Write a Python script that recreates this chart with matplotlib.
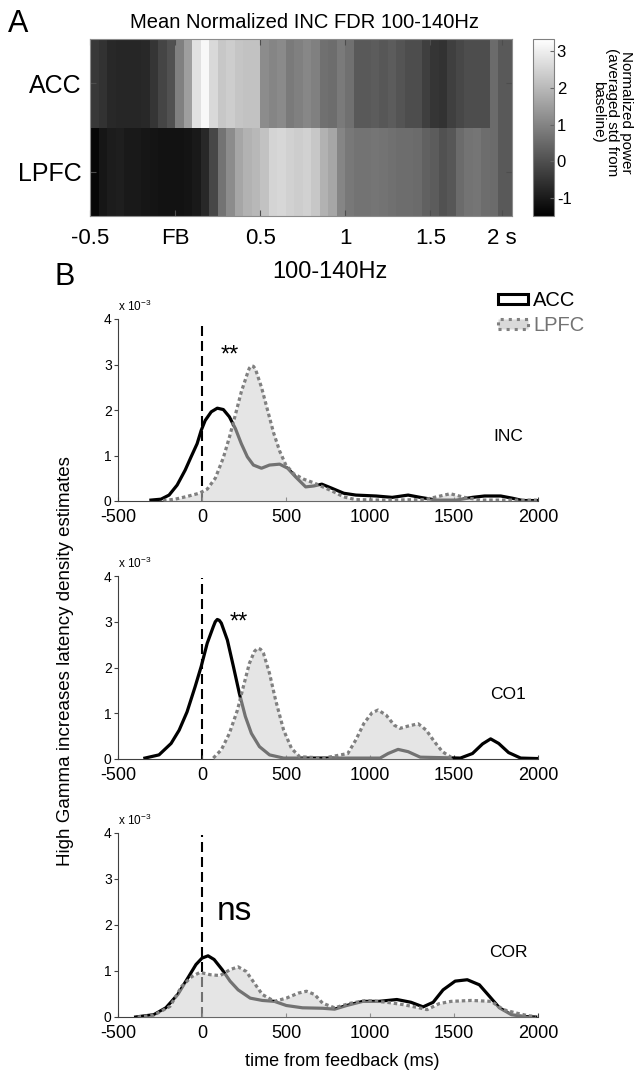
import numpy as np
import matplotlib
matplotlib.use('Agg')
import matplotlib.pyplot as plt
from matplotlib.patches import Patch

plt.rcParams['font.family'] = ['Liberation Sans', 'DejaVu Sans']
plt.rcParams['mathtext.default'] = 'regular'
plt.rcParams['axes.unicode_minus'] = False

# ---- panel A : mean normalized power, 50 ms bins from -0.5 s
t_edges = np.linspace(-0.5, 2.0, 51)
acc_power = [-0.43, -0.53, -0.72, -0.77, -0.77, -0.77, -0.72, -0.48, -0.19, 0.05,
             0.92, 1.5, 2.75, 3.19, 2.61, 2.27, 2.37, 2.22, 2.17, 2.17,
             1.16, 1.02, 1.11, 0.82, 0.92, 1.06, 0.92, 0.63, 0.58, 0.82,
             0.63, 0.2, 0.2, 0.25, 0.15, 0.25, 0.10, -0.04, -0.04, -0.29,
             -0.48, -0.53, -0.29, -0.14, -0.04, -0.04, -0.04, 0.53, 0.2, 0.2]
lpfc_power = [-1.35, -1.06, -0.96, -0.91, -1.01, -1.01, -1.06, -1.10, -1.15, -1.15,
              -1.15, -1.10, -1.01, -0.72, -0.14, 0.68, 1.16, 1.64, 1.88, 1.98,
              2.17, 2.51, 2.56, 2.46, 2.37, 2.46, 2.27, 1.88, 1.64, 1.02,
              0.78, 0.68, 0.68, 0.73, 0.68, 0.63, 0.58, 0.58, 0.53, 0.34,
              0.25, 0.05, 0.15, 0.53, 0.68, 0.73, 0.58, 0.53, 0.2, 0.2]
rows = ['ACC', 'LPFC']
a_ticks = [-0.5, 0, 0.5, 1, 1.5, 1.92]
a_ticklabels = ['-0.5', 'FB', '0.5', '1', '1.5', '2 s']

# ---- panel B : latency density estimates (x 1e-3), time in ms
inc_acc_t = [-304, -244, -196, -148, -100, -65, -29, -5, 19, 55, 91, 127, 163, 199, 234, 270,
             306, 354, 402, 462, 510, 557, 617, 665, 713, 773, 844, 916, 1036, 1132, 1227,
             1299, 1395, 1514, 1610, 1682, 1778, 1849, 1909, 1993]
inc_acc = [0.02, 0.04, 0.13, 0.35, 0.68, 0.97, 1.26, 1.55, 1.77, 1.96, 2.04, 2.01, 1.85, 1.59,
           1.26, 0.97, 0.79, 0.72, 0.79, 0.81, 0.72, 0.53, 0.31, 0.33, 0.37, 0.28, 0.17, 0.13,
           0.11, 0.08, 0.13, 0.08, 0.02, 0.02, 0.08, 0.11, 0.11, 0.06, 0.01, 0.01]
inc_lpfc_t = [-232, -160, -89, -17, 31, 79, 127, 163, 199, 234, 270, 282, 294, 306, 318, 354,
              390, 426, 462, 498, 545, 605, 665, 725, 785, 844, 916, 1084, 1323, 1395, 1478,
              1562, 1658, 1825, 1993]
inc_lpfc = [0.01, 0.04, 0.1, 0.17, 0.26, 0.5, 0.95, 1.4, 1.9, 2.4, 2.8, 2.92, 2.97, 2.96, 2.9,
            2.5, 2.0, 1.5, 1.1, 0.8, 0.6, 0.48, 0.4, 0.3, 0.2, 0.09, 0.03, 0.02, 0.03, 0.09,
            0.16, 0.08, 0.02, 0.02, 0.02]

co1_acc_t = [-340, -256, -184, -136, -89, -41, -5, 31, 67, 79, 91, 103, 115, 151, 187, 222,
             258, 294, 342, 402, 486, 1060, 1108, 1167, 1227, 1299, 1538, 1610, 1670, 1718,
             1766, 1825, 1897, 1993]
co1_acc = [0.02, 0.09, 0.34, 0.63, 1.03, 1.58, 2.02, 2.53, 2.89, 3.0, 3.05, 3.03, 2.97, 2.6,
           2.02, 1.44, 0.93, 0.56, 0.27, 0.09, 0.02, 0.02, 0.12, 0.21, 0.16, 0.04, 0.02, 0.12,
           0.33, 0.44, 0.34, 0.14, 0.02, 0.01]
co1_lpfc_t = [67, 115, 163, 211, 246, 282, 312, 330, 348, 366, 402, 438, 486, 533, 581, 725,
              868, 916, 964, 1012, 1048, 1096, 1144, 1179, 1227, 1287, 1335, 1383, 1431, 1490]
co1_lpfc = [0.02, 0.2, 0.56, 1.07, 1.58, 2.09, 2.35, 2.42, 2.4, 2.31, 1.87, 1.29, 0.63, 0.23,
            0.05, 0.02, 0.12, 0.42, 0.78, 1.01, 1.07, 0.96, 0.74, 0.67, 0.72, 0.77, 0.63, 0.38,
            0.16, 0.02]

cor_acc_t = [-395, -287, -215, -144, -84, -36, 0, 36, 72, 120, 167, 215, 287, 359, 431, 502,
             598, 718, 789, 861, 957, 1053, 1160, 1244, 1316, 1376, 1435, 1507, 1579, 1651,
             1711, 1770, 1842, 1914, 1986]
cor_acc = [0.0, 0.05, 0.2, 0.49, 0.85, 1.14, 1.28, 1.33, 1.25, 1.03, 0.78, 0.59, 0.41, 0.36,
           0.34, 0.25, 0.2, 0.19, 0.17, 0.25, 0.34, 0.34, 0.38, 0.32, 0.22, 0.32, 0.59, 0.78,
           0.81, 0.7, 0.45, 0.2, 0.05, 0.01, 0.0]
cor_lpfc_t = [-383, -287, -191, -120, -60, -12, 48, 108, 167, 215, 263, 311, 359, 431, 502,
              574, 622, 670, 718, 789, 885, 981, 1100, 1196, 1292, 1340, 1411, 1483, 1603,
              1722, 1794, 1866, 1938, 1986]
cor_lpfc = [0.0, 0.04, 0.23, 0.67, 0.88, 0.97, 0.92, 0.9, 1.03, 1.09, 0.99, 0.74, 0.49, 0.34,
            0.41, 0.52, 0.56, 0.49, 0.3, 0.2, 0.3, 0.36, 0.32, 0.27, 0.2, 0.16, 0.29, 0.34,
            0.36, 0.34, 0.16, 0.09, 0.03, 0.01]

conditions = ['INC', 'CO1', 'COR']
signif = ['**', '**', 'ns']
acc_t = [inc_acc_t, co1_acc_t, cor_acc_t]
acc_y = [inc_acc, co1_acc, cor_acc]
lpfc_t = [inc_lpfc_t, co1_lpfc_t, cor_lpfc_t]
lpfc_y = [inc_lpfc, co1_lpfc, cor_lpfc]

W, H = 637, 1072
fig = plt.figure(figsize=(W / 100, H / 100), dpi=100)

def box(x0, y0, x1, y1):
    # pixel box (top-left origin) -> figure fraction rect
    return [x0 / W, 1 - y1 / H, (x1 - x0) / W, (y1 - y0) / H]

# ---------- panel A
axa = fig.add_axes(box(90, 39, 512, 216))
data = np.vstack([acc_power, lpfc_power])
mesh = axa.pcolormesh(t_edges, [0, 1, 2], data, cmap='gray', vmin=-1.49, vmax=3.33)
axa.set_xlim(-0.5, 1.98)
axa.set_ylim(2, 0)
axa.set_yticks([0.5, 1.5])
axa.set_yticklabels(rows, fontsize=18)
axa.set_xticks(a_ticks)
axa.set_xticklabels(a_ticklabels, fontsize=16)
axa.tick_params(direction='in', length=4, top=True, right=True, color='0.3')
axa.tick_params(axis='x', pad=9)
axa.tick_params(axis='y', pad=6)
for s in axa.spines.values():
    s.set_color('0.55')

cax = fig.add_axes(box(533, 39, 554, 216))
cb = fig.colorbar(mesh, cax=cax)
cb.set_ticks([-1, 0, 1, 2, 3])
cax.tick_params(direction='in', length=3, labelsize=12, pad=2, color='0.4')
cb.outline.set_edgecolor('0.5')
fig.text(612 / W, 1 - 112 / H, 'Normalized power\n(averaged std from\nbaseline)',
         rotation=270, ha='center', va='center', multialignment='center',
         fontsize=11, linespacing=1.0)

fig.text(305 / W, 1 - 22 / H, 'Mean Normalized INC FDR 100-140Hz', ha='center', va='center',
         fontsize=14.5)
fig.text(18 / W, 1 - 24 / H, 'A', ha='center', va='center', fontsize=22)
fig.text(330 / W, 1 - 272 / H, '100-140Hz', ha='center', va='center', fontsize=17)
fig.text(65 / W, 1 - 277 / H, 'B', ha='center', va='center', fontsize=22)

# ---------- panel B
tops = [319, 576, 833]
bottoms = [501, 759, 1017]
star_xy = [(167, 3.2), (220, 2.98), (190, 2.3)]
star_size = [17, 17, 24]
axes_b = []
for i in range(3):
    ax = fig.add_axes(box(118, tops[i], 538, bottoms[i]))
    axes_b.append(ax)
    ax.plot([0, 0], [0, 3.95], color='black', lw=1.5, ls=(0, (4.8, 2.4)), zorder=1)
    ax.plot(acc_t[i], acc_y[i], color='black', lw=2.3, zorder=2)
    ax.fill_between(lpfc_t[i], lpfc_y[i], 0, color='0.82', alpha=0.55, lw=0, zorder=3)
    ax.plot(lpfc_t[i], lpfc_y[i], color='0.5', lw=2.3, ls=(0, (1.1, 0.9)), zorder=4)
    ax.set_xlim(-500, 2000)
    ax.set_ylim(0, 4)
    ax.set_xticks([-500, 0, 500, 1000, 1500, 2000])
    ax.set_yticks([0, 1, 2, 3, 4])
    ax.spines['top'].set_visible(False)
    ax.spines['right'].set_visible(False)
    for s in ['left', 'bottom']:
        ax.spines[s].set_color('0.25')
    ax.tick_params(axis='x', direction='in', length=3, labelsize=13, pad=6, color='0.25')
    ax.tick_params(axis='y', direction='out', length=3, labelsize=10, pad=1.5, color='0.25')
    ax.text(0, 1.07, r'x 10$^{-3}$', transform=ax.transAxes, fontsize=8.5,
            ha='left', va='center')
    ax.text(1821, 1.41, conditions[i], fontsize=12.5, ha='center', va='center')
    sx, sy = star_xy[i]
    ax.text(sx, sy, signif[i], fontsize=star_size[i], ha='center', va='center')

handles = [Patch(facecolor='white', edgecolor='black', linewidth=2.2),
           Patch(facecolor='0.85', edgecolor='0.5', linewidth=2.2, linestyle=':')]
leg = axes_b[0].legend(handles, ['ACC', 'LPFC'], loc='upper left',
                       bbox_to_anchor=(498 / W, 1 - 291 / H), bbox_transform=fig.transFigure,
                       frameon=False, fontsize=14.5, handlelength=1.5, handleheight=0.35,
                       handletextpad=0.25, labelspacing=0.3, borderpad=0, borderaxespad=0)
for txt, c in zip(leg.get_texts(), ['black', '0.45']):
    txt.set_color(c)

fig.text(66 / W, 1 - 661 / H, 'High Gamma increases latency density estimates', rotation=90,
         ha='center', va='center', fontsize=13.5)
fig.text(342 / W, 1 - 1061 / H, 'time from feedback (ms)', ha='center', va='center',
         fontsize=13)

fig.savefig('out.png', dpi=100)
